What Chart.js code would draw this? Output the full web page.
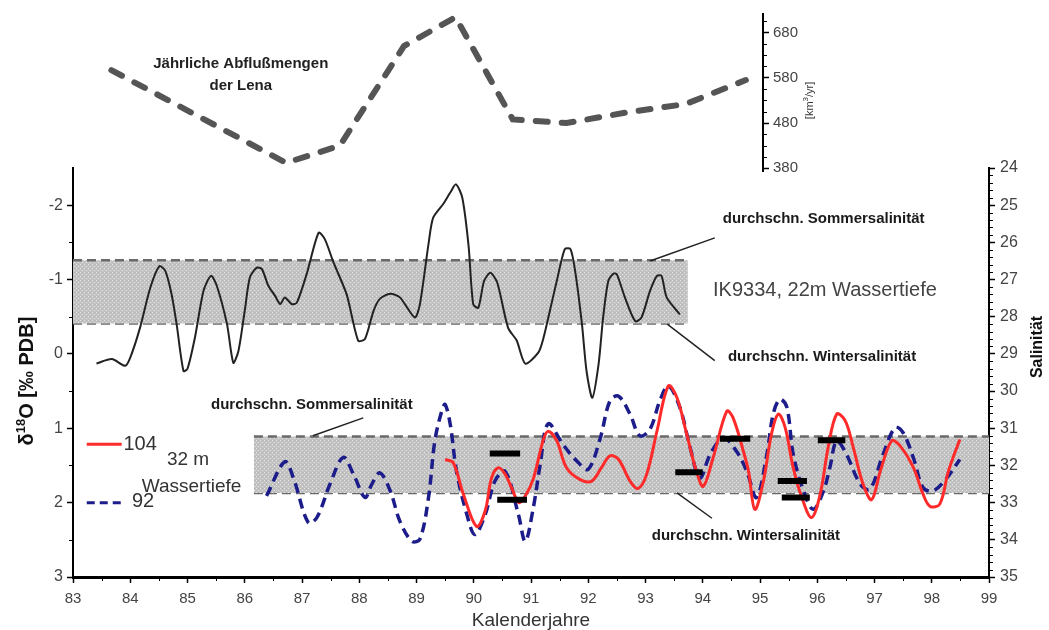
<!DOCTYPE html>
<html>
<head>
<meta charset="utf-8">
<style>
  html, body { margin: 0; padding: 0; background: #fff; }
  #wrap { position: relative; width: 1049px; height: 630px; overflow: hidden; }
  #wrap canvas { position: absolute; left: 0; top: 0; }
</style>
<script src="https://cdn.jsdelivr.net/npm/chart.js@4.4.1/dist/chart.umd.min.js"></script>
</head>
<body>
<div id="wrap">
  <canvas id="main" width="1049" height="630"></canvas>
  <canvas id="lena" width="830" height="190"></canvas>
</div>
<script>
// ======== data ========
// annual Lena discharge [km3/yr]
const lenaYears = [83.67, 86.72, 87.66, 88.78, 89.68, 90.68, 91.62, 92.65, 93.70, 94.75]
const lenaDischarge = [597, 392, 430, 650, 714, 488, 480, 503, 522, 575]

// IK9334, 22 m water depth (d18O, permil PDB)
const blackYears = [83.41, 83.68, 83.91, 84.00, 84.17, 84.35, 84.51, 84.61, 84.72, 84.81,
  84.93, 85.00, 85.13, 85.28, 85.41, 85.51, 85.69, 85.80, 85.89, 86.00,
  86.09, 86.21, 86.30, 86.41, 86.53, 86.62, 86.70, 86.82, 86.91, 87.08,
  87.29, 87.40, 87.55, 87.78, 87.98, 88.10, 88.25, 88.36, 88.54, 88.71,
  88.97, 89.06, 89.21, 89.29, 89.47, 89.59, 89.69, 89.80, 89.91, 89.99,
  90.08, 90.18, 90.29, 90.41, 90.60, 90.75, 90.90, 91.13, 91.22, 91.33,
  91.45, 91.59, 91.69, 91.77, 91.89, 91.97, 92.07, 92.18, 92.26, 92.35,
  92.44, 92.50, 92.64, 92.82, 92.93, 93.08, 93.20, 93.28, 93.37, 93.60]
const blackD18O = [0.13, 0.07, 0.16, 0.05, -0.35, -0.89, -1.18, -1.12, -0.81, -0.40,
  0.23, 0.20, -0.22, -0.85, -1.05, -0.92, -0.40, 0.12, -0.04, -0.58,
  -1.03, -1.16, -1.14, -0.92, -0.78, -0.67, -0.76, -0.67, -0.69, -1.07,
  -1.63, -1.54, -1.23, -0.80, -0.18, -0.20, -0.58, -0.74, -0.81, -0.76,
  -0.49, -0.67, -1.48, -1.83, -2.02, -2.17, -2.28, -2.10, -1.45, -0.67,
  -0.62, -0.98, -1.09, -0.96, -0.35, -0.18, 0.13, -0.02, -0.22, -0.58,
  -0.98, -1.41, -1.41, -1.12, -0.40, 0.23, 0.59, 0.14, -0.49, -0.98,
  -1.08, -1.07, -0.76, -0.44, -0.49, -0.85, -1.05, -1.05, -0.76, -0.53]

// core 92, 32 m water depth
const blueYears = [86.38, 86.70, 86.85, 87.11, 87.26, 87.49, 87.72, 87.90, 88.10, 88.22,
  88.36, 88.54, 88.71, 88.92, 89.06, 89.21, 89.32, 89.44, 89.50, 89.59,
  89.70, 89.88, 90.02, 90.20, 90.37, 90.55, 90.78, 90.90, 91.04, 91.16,
  91.30, 91.56, 91.80, 92.00, 92.21, 92.38, 92.53, 92.73, 92.90, 93.08,
  93.25, 93.40, 93.60, 93.78, 93.95, 94.13, 94.36, 94.59, 94.77, 94.94,
  95.12, 95.23, 95.35, 95.47, 95.58, 95.76, 95.93, 96.11, 96.22, 96.34,
  96.51, 96.75, 96.92, 97.15, 97.36, 97.50, 97.68, 97.85, 98.03, 98.26, 98.49]
const blueD18O = [1.91, 1.45, 1.67, 2.27, 2.20, 1.75, 1.39, 1.62, 1.93, 1.75,
  1.60, 1.84, 2.25, 2.52, 2.49, 1.93, 1.17, 0.77, 0.68, 0.95,
  1.58, 2.16, 2.43, 2.16, 1.71, 1.58, 2.16, 2.52, 2.07, 1.49,
  0.94, 1.22, 1.44, 1.55, 1.13, 0.63, 0.57, 0.81, 1.10, 1.01,
  0.63, 0.43, 0.72, 1.26, 1.67, 1.35, 1.13, 1.31, 1.58, 1.93,
  1.35, 0.81, 0.61, 0.72, 1.35, 1.84, 2.09, 1.84, 1.53, 1.17,
  1.35, 1.75, 1.82, 1.35, 0.99, 1.06, 1.40, 1.80, 1.84, 1.67, 1.42]

// core 104, 32 m water depth
const redYears = [89.50, 89.64, 89.82, 90.05, 90.20, 90.31, 90.43, 90.55, 90.66, 90.79,
  90.90, 91.04, 91.21, 91.30, 91.45, 91.62, 91.86, 92.06, 92.23, 92.38,
  92.53, 92.73, 92.87, 93.02, 93.20, 93.40, 93.55, 93.72, 93.89, 94.01,
  94.18, 94.42, 94.53, 94.71, 94.80, 94.91, 95.06, 95.20, 95.32, 95.44,
  95.58, 95.73, 95.90, 96.05, 96.19, 96.34, 96.49, 96.63, 96.80, 96.95,
  97.10, 97.30, 97.45, 97.68, 97.85, 97.97, 98.14, 98.29, 98.49]
const redD18O = [1.42, 1.46, 1.89, 2.32, 2.11, 1.67, 1.53, 1.62, 1.80, 2.00,
  1.91, 1.68, 1.17, 1.04, 1.17, 1.53, 1.69, 1.71, 1.53, 1.37,
  1.42, 1.71, 1.81, 1.62, 1.04, 0.43, 0.59, 1.08, 1.58, 1.78,
  1.40, 0.77, 0.86, 1.31, 1.58, 2.09, 1.71, 1.08, 0.81, 0.99,
  1.53, 1.93, 2.20, 1.89, 1.26, 0.81, 0.90, 1.26, 1.75, 1.96,
  1.58, 1.17, 1.24, 1.53, 1.89, 2.05, 2.02, 1.58, 1.15]

// black bars (measured summer / winter values)
const barStart = [90.28, 90.41, 93.52, 94.30, 95.31, 95.38, 96.01]
const barEnd = [90.81, 90.93, 94.00, 94.83, 95.82, 95.87, 96.49]
const barD18O = [1.34, 1.96, 1.59, 1.14, 1.71, 1.93, 1.16]

// mean summer / winter salinity bands
const upperBandYears = [83, 93.74]
const upperSummer = -1.26
const upperWinter = -0.41
const lowerBandYears = [86.16, 99]
const lowerSummer = 1.11
const lowerWinter = 1.87

// tick labels
const yearTicks = [83, 84, 85, 86, 87, 88, 89, 90, 91, 92, 93, 94, 95, 96, 97, 98, 99]
const d18oTicks = [-2, -1, 0, 1, 2, 3]
const salinityTicks = [24, 25, 26, 27, 28, 29, 30, 31, 32, 33, 34, 35]
const lenaTicks = [380, 480, 580, 680]

// ======== helpers ========
const FONT = '"Liberation Sans", Arial, Helvetica, sans-serif'
Chart.defaults.font.family = FONT

const pts = (xs, ys) => xs.map((x, i) => ({ x: x, y: ys[i] }))
const flat = (xs, v) => xs.map(x => ({ x: x, y: v }))
const setTicks = list => s => { s.ticks = list.map(v => ({ value: v })) }

// small in-between ticks
const minors = (from, to, step) => {
    const out = []
    for (let v = from; v <= to + 1e-9; v += step) out.push(Math.round(v * 100) / 100)
    return out
}

// grey dotted band fill
const bandPattern = (() => {
    const c = document.createElement('canvas')
    c.width = 4; c.height = 4
    const g = c.getContext('2d')
    g.fillStyle = '#c2c2c2'
    g.fillRect(0, 0, 4, 4)
    g.fillStyle = '#e4e4e4'
    g.fillRect(0, 0, 1, 1)
    g.fillRect(2, 2, 1, 1)
    g.fillStyle = '#b0b0b0'
    g.fillRect(2, 0, 1, 1)
    return g.createPattern(c, 'repeat')
})()

const barPoints = []
barStart.forEach((s, i) => {
    barPoints.push({ x: s, y: barD18O[i] }, { x: barEnd[i], y: barD18O[i] }, { x: barEnd[i], y: null })
})

const minorTickPlugin = {
    id: 'minorTicks',
    afterDraw(chart, args, opts) {
        const ctx = chart.ctx
        ctx.save()
        ctx.strokeStyle = '#000'
        ctx.lineWidth = 1
        ;(opts.list || []).forEach(m => {
            const s = chart.scales[m.scale]
            m.values.forEach(v => {
                const p = Math.round(s.getPixelForValue(v)) + 0.5
                ctx.beginPath()
                if (m.side === 'bottom') { ctx.moveTo(p, s.top); ctx.lineTo(p, s.top + 4) }
                else if (m.side === 'left') { ctx.moveTo(s.right, p); ctx.lineTo(s.right - 4, p) }
                else { ctx.moveTo(s.left, p); ctx.lineTo(s.left + 4, p) }
                ctx.stroke()
            })
        })
        ctx.restore()
    }
}

// draws text pieces in a row, rotated by -90deg round (cx, cy)
function rotatedText(ctx, cx, cy, parts, color) {
    ctx.save()
    ctx.translate(cx, cy)
    ctx.rotate(-Math.PI / 2)
    ctx.fillStyle = color
    ctx.textBaseline = 'middle'
    ctx.textAlign = 'left'
    let total = 0
    parts.forEach(p => { ctx.font = p.font; total += ctx.measureText(p.text).width })
    let x = -total / 2
    parts.forEach(p => {
        ctx.font = p.font
        ctx.fillText(p.text, x, p.dy || 0)
        x += ctx.measureText(p.text).width
    })
    ctx.restore()
}

// ======== annotations of the main panel ========
const notesPlugin = {
    id: 'notes',
    afterDatasetsDraw(chart) {
        const ctx = chart.ctx
        const xs = chart.scales.x, ys = chart.scales.d18o
        const X = v => xs.getPixelForValue(v), Y = v => ys.getPixelForValue(v)
        ctx.save()

        // leader lines
        ctx.strokeStyle = '#222'
        ctx.lineWidth = 1.5
        const leaders = [[94.21, -1.56, 93.08, -1.25], [94.21, 0.09, 93.38, -0.40],
                         [88.07, 0.86, 87.19, 1.10], [94.16, 2.21, 93.55, 1.87]]
        leaders.forEach(l => {
            ctx.beginPath()
            ctx.moveTo(X(l[0]), Y(l[1]))
            ctx.lineTo(X(l[2]), Y(l[3]))
            ctx.stroke()
        })

        ctx.textBaseline = 'middle'
        ctx.textAlign = 'left'
        ctx.fillStyle = '#1a1a1a'
        ctx.font = 'bold 15px ' + FONT
        ctx.fillText('durchschn. Sommersalinität', X(94.35), Y(-1.82))
        ctx.fillText('durchschn. Wintersalinität', X(94.44), Y(0.04))
        ctx.fillText('durchschn. Sommersalinität', X(85.41), Y(0.69))
        ctx.fillText('durchschn. Wintersalinität', X(93.11), Y(2.45))

        ctx.fillStyle = '#444'
        ctx.font = '20px ' + FONT
        ctx.fillText('IK9334, 22m Wassertiefe', X(94.18), Y(-0.85))

        // legend of the two 32 m cores
        ctx.strokeStyle = '#ff2a2a'
        ctx.lineWidth = 3
        ctx.beginPath(); ctx.moveTo(X(83.24), Y(1.215)); ctx.lineTo(X(83.85), Y(1.215)); ctx.stroke()
        ctx.strokeStyle = '#1c1c8a'
        ctx.setLineDash([8, 5])
        ctx.beginPath(); ctx.moveTo(X(83.24), Y(2.0)); ctx.lineTo(X(83.85), Y(2.0)); ctx.stroke()
        ctx.setLineDash([])
        ctx.fillStyle = '#333'
        ctx.font = '20px ' + FONT
        ctx.fillText('104', X(83.88), Y(1.215))
        ctx.fillText('92', X(84.03), Y(1.98))
        ctx.font = '19px ' + FONT
        ctx.fillText('32 m', X(84.64), Y(1.42))
        ctx.fillText('Wassertiefe', X(84.20), Y(1.79))
        ctx.restore()
    },
    afterDraw(chart) {
        const ctx = chart.ctx
        const area = chart.chartArea
        rotatedText(ctx, 27, 381, [
            { text: 'δ', font: 'bold 20px ' + FONT },
            { text: '18', font: 'bold 13px ' + FONT, dy: -6 },
            { text: 'O [‰ PDB]', font: 'bold 20px ' + FONT }
        ], '#111')
        rotatedText(ctx, 1038, 347, [{ text: 'Salinität', font: 'bold 16px ' + FONT }], '#111')
        ctx.save()
        ctx.fillStyle = '#333'
        ctx.font = '19px ' + FONT
        ctx.textAlign = 'center'
        ctx.textBaseline = 'middle'
        ctx.fillText('Kalenderjahre', (area.left + area.right) / 2, 621)
        ctx.restore()
    }
}

const axisStyle = {
    grid: { drawOnChartArea: false, color: '#000', tickLength: 6, tickWidth: 1.5 },
    border: { color: '#000', width: 2 }
}

new Chart(document.getElementById('main'), {
    type: 'line',
    data: {
        datasets: [
            {
                data: flat(upperBandYears, upperSummer), yAxisID: 'd18o', fill: '+1',
                backgroundColor: bandPattern, borderColor: '#6a6a6a', borderWidth: 2.5,
                borderDash: [9, 5], pointRadius: 0, order: 10
            },
            {
                data: flat(upperBandYears, upperWinter), yAxisID: 'd18o', fill: false,
                borderColor: '#6a6a6a', borderWidth: 2.5, borderDash: [9, 5], pointRadius: 0, order: 10
            },
            {
                data: flat(lowerBandYears, lowerSummer), yAxisID: 'd18o', fill: '+1',
                backgroundColor: bandPattern, borderColor: '#6a6a6a', borderWidth: 2.5,
                borderDash: [9, 5], pointRadius: 0, order: 10
            },
            {
                data: flat(lowerBandYears, lowerWinter), yAxisID: 'd18o', fill: false,
                borderColor: '#6a6a6a', borderWidth: 2.5, borderDash: [9, 5], pointRadius: 0, order: 10
            },
            {
                label: 'IK9334', data: pts(blackYears, blackD18O), yAxisID: 'd18o',
                borderColor: '#222', borderWidth: 2, tension: 0.25, pointRadius: 0, order: 2
            },
            {
                label: '92', data: pts(blueYears, blueD18O), yAxisID: 'd18o',
                borderColor: '#1c1c8a', borderWidth: 3.5, borderDash: [10, 6],
                tension: 0.35, pointRadius: 0, order: 3
            },
            {
                label: '104', data: pts(redYears, redD18O), yAxisID: 'd18o',
                borderColor: '#ff2a2a', borderWidth: 3, tension: 0.35, pointRadius: 0, order: 2
            },
            {
                label: 'bars', data: barPoints, yAxisID: 'd18o', borderColor: '#000',
                borderWidth: 6, pointRadius: 0, spanGaps: false, order: 1
            }
        ]
    },
    options: {
        responsive: false,
        animation: false,
        devicePixelRatio: 1,
        layout: { padding: { top: 168, left: 0, right: 0, bottom: 0 } },
        scales: {
            x: {
                type: 'linear', min: 83, max: 99, position: 'bottom',
                afterBuildTicks: setTicks(yearTicks),
                afterFit: s => { s.height = 53 },
                ticks: { font: { size: 15 }, color: '#444', padding: 7, callback: v => String(v) },
                grid: axisStyle.grid,
                border: { color: '#000', width: 3 }
            },
            d18o: {
                type: 'linear', position: 'left', min: -2.5, max: 3, reverse: true,
                afterBuildTicks: setTicks(d18oTicks),
                afterFit: s => { s.width = 73 },
                ticks: { font: { size: 16 }, color: '#444', padding: 4, callback: v => String(v) },
                grid: axisStyle.grid, border: axisStyle.border
            },
            sal: {
                type: 'linear', position: 'right', min: 24, max: 35, reverse: true,
                afterBuildTicks: setTicks(salinityTicks),
                afterFit: s => { s.width = 60 },
                ticks: { font: { size: 16 }, color: '#444', padding: 5, callback: v => String(v) },
                grid: axisStyle.grid, border: axisStyle.border
            }
        },
        plugins: {
            legend: { display: false },
            tooltip: { enabled: false },
            minorTicks: {
                list: [
                    { scale: 'x', side: 'bottom', values: minors(83.5, 98.5, 1) },
                    { scale: 'd18o', side: 'left', values: minors(-1.5, 2.5, 1) },
                    { scale: 'sal', side: 'right', values: minors(24.2, 34.8, 0.2).filter(v => Math.abs(v - Math.round(v)) > 0.01) }
                ]
            }
        }
    },
    plugins: [minorTickPlugin, notesPlugin]
})

// ======== top panel: Lena discharge ========
const lenaNotes = {
    id: 'lenaNotes',
    afterDraw(chart) {
        const ctx = chart.ctx
        const xs = chart.scales.x, ys = chart.scales.lena
        ctx.save()
        ctx.fillStyle = '#222'
        ctx.font = 'bold 15px ' + FONT
        ctx.textAlign = 'center'
        ctx.textBaseline = 'middle'
        ctx.fillText('Jährliche Abflußmengen', xs.getPixelForValue(85.93), ys.getPixelForValue(610))
        ctx.fillText('der Lena', xs.getPixelForValue(85.93), ys.getPixelForValue(562))
        ctx.restore()
        rotatedText(ctx, ys.left + 47, ys.getPixelForValue(530), [
            { text: '[km', font: '11px ' + FONT },
            { text: '3', font: '8px ' + FONT, dy: -4 },
            { text: '/yr]', font: '11px ' + FONT }
        ], '#333')
    }
}

new Chart(document.getElementById('lena'), {
    type: 'line',
    data: {
        datasets: [{
            data: pts(lenaYears, lenaDischarge), yAxisID: 'lena',
            borderColor: '#555', borderWidth: 6, borderDash: [12, 14], borderCapStyle: 'round',
            tension: 0, pointRadius: 0
        }]
    },
    options: {
        responsive: false,
        animation: false,
        devicePixelRatio: 1,
        layout: { padding: { top: 14, left: 73, right: 0, bottom: 19 } },
        scales: {
            x: { type: 'linear', min: 83, max: 95.05, display: false },
            lena: {
                type: 'linear', position: 'right', min: 374, max: 721,
                afterBuildTicks: setTicks(lenaTicks),
                afterFit: s => { s.width = 67 },
                ticks: { font: { size: 15 }, color: '#444', padding: 4, callback: v => String(v) },
                grid: axisStyle.grid, border: axisStyle.border
            }
        },
        plugins: {
            legend: { display: false },
            tooltip: { enabled: false },
            minorTicks: {
                list: [{ scale: 'lena', side: 'right', values: minors(405, 705, 25).filter(v => (v - 380) % 100 !== 0) }]
            }
        }
    },
    plugins: [minorTickPlugin, lenaNotes]
})
</script>
</body>
</html>
